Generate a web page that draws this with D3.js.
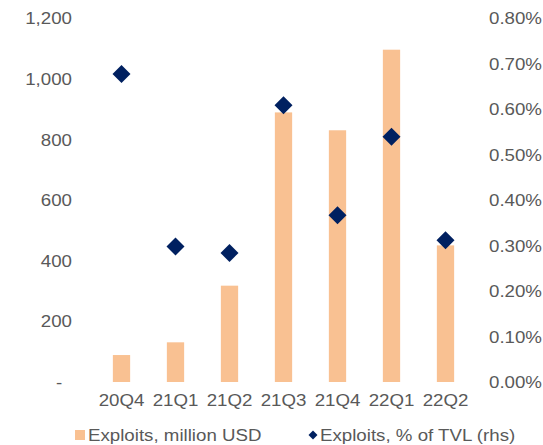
<!DOCTYPE html>
<html>
<head>
<meta charset="utf-8">
<script src="https://cdn.jsdelivr.net/npm/d3@7"></script>
<style>
  body { margin: 0; background: #fff; }
  svg text { font-family: "Liberation Sans", Arial, sans-serif; fill: #595959; }
</style>
</head>
<body>
<div id="chart"></div>
<script>
const WIDTH = 543;
const HEIGHT = 445;
const LEFT = 94.5;
const RIGHT = 472.5;
const TOP = 18.5;
const BOTTOM = 382;
const FONT_SIZE = 17;
const STRETCH = 'scale(1.1, 1)';

const quarters = ['20Q4', '21Q1', '21Q2', '21Q3', '21Q4', '22Q1', '22Q2'];
const exploitsUsd = [89, 131, 318, 890, 831, 1097, 451];
const exploitsPct = [0.678, 0.298, 0.284, 0.609, 0.367, 0.540, 0.312];
const leftTicks = [0, 200, 400, 600, 800, 1000, 1200];
const rightTicks = [0, 0.1, 0.2, 0.3, 0.4, 0.5, 0.6, 0.7, 0.8];
const legendLabels = ['Exploits, million USD', 'Exploits, % of TVL (rhs)'];

const BAR_COLOR = '#f9c192';
const DOT_COLOR = '#002060';

let svg = d3.select('#chart').append('svg')
  .attr('width', WIDTH)
  .attr('height', HEIGHT);

let xScale = d3.scaleBand()
  .domain(quarters)
  .range([LEFT, RIGHT])
  .paddingInner(0.68)
  .paddingOuter(0.34);

let yLeft = d3.scaleLinear().domain([0, 1200]).range([BOTTOM, TOP]);
let yRight = d3.scaleLinear().domain([0, 0.8]).range([BOTTOM, TOP]);

function styleTicks(g) {
  g.select('.domain').remove();
  g.selectAll('text')
    .attr('font-size', FONT_SIZE)
    .attr('fill', '#595959')
    .attr('font-family', '"Liberation Sans", Arial, sans-serif')
    .attr('transform', STRETCH);
}

// left axis
let leftAxis = d3.axisLeft(yLeft)
  .tickValues(leftTicks)
  .tickSize(0)
  .tickPadding(0)
  .tickFormat((d) => d === 0 ? '-' : d3.format(',')(d));

svg.append('g')
  .attr('transform', 'translate(72, 0)')
  .call(leftAxis)
  .call(styleTicks)
  .selectAll('text')
  .attr('dx', (d) => d === 0 ? -9 : 0);

// right axis
let rightAxis = d3.axisRight(yRight)
  .tickValues(rightTicks)
  .tickSize(0)
  .tickPadding(0)
  .tickFormat((d) => d3.format('.2f')(d) + '%');

svg.append('g')
  .attr('transform', 'translate(489, 0)')
  .call(rightAxis)
  .call(styleTicks);

// x axis
let xAxis = d3.axisBottom(xScale).tickSize(0).tickPadding(12);
svg.append('g')
  .attr('transform', `translate(0, ${BOTTOM})`)
  .call(xAxis)
  .call(styleTicks);

// bars
svg.append('g')
  .selectAll('rect')
  .data(quarters)
  .enter()
  .append('rect')
  .attr('x', (d) => xScale(d))
  .attr('width', xScale.bandwidth())
  .attr('y', (d, i) => yLeft(exploitsUsd[i]))
  .attr('height', (d, i) => BOTTOM - yLeft(exploitsUsd[i]))
  .attr('fill', BAR_COLOR);

// diamonds
let diamond = d3.symbol().type(d3.symbolSquare).size(162);
svg.append('g')
  .selectAll('path')
  .data(quarters)
  .enter()
  .append('path')
  .attr('d', diamond)
  .attr('transform', (d, i) =>
    `translate(${xScale(d) + xScale.bandwidth() / 2}, ${yRight(exploitsPct[i])}) rotate(45)`)
  .attr('fill', DOT_COLOR);

// legend
let legend = svg.append('g').attr('class', 'legend');
legend.append('rect')
  .attr('x', 75).attr('y', 430)
  .attr('width', 10).attr('height', 10)
  .attr('fill', BAR_COLOR);
legend.append('g')
  .attr('transform', 'translate(88, 440.5)')
  .append('text')
  .attr('font-size', FONT_SIZE)
  .attr('transform', STRETCH)
  .text(legendLabels[0]);
legend.append('path')
  .attr('d', d3.symbol().type(d3.symbolSquare).size(40))
  .attr('transform', 'translate(313, 435) rotate(45)')
  .attr('fill', DOT_COLOR);
legend.append('g')
  .attr('transform', 'translate(320, 440.5)')
  .append('text')
  .attr('font-size', FONT_SIZE)
  .attr('transform', STRETCH)
  .text(legendLabels[1]);
</script>
</body>
</html>
